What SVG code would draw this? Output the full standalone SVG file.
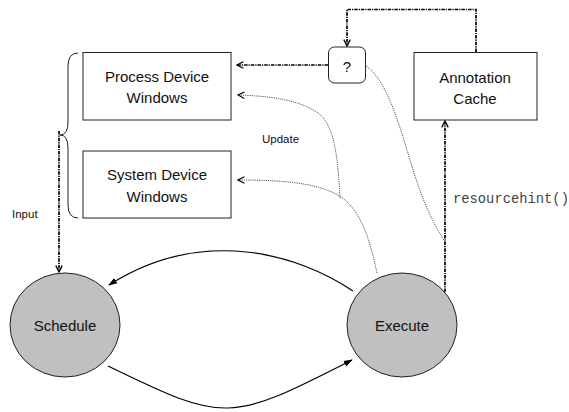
<svg xmlns="http://www.w3.org/2000/svg" width="569" height="412" viewBox="0 0 569 412">
<defs>
<style>
.box{fill:#fff;stroke:#222;stroke-width:1}
.state{fill:#c0c0c0;stroke:#222;stroke-width:1}
.lbl{font-family:"Liberation Sans",Arial,sans-serif;font-size:15px;fill:#111;text-anchor:middle}
.small{font-family:"Liberation Sans",Arial,sans-serif;font-size:11.5px;fill:#111}
.mono{font-family:"Liberation Mono","Courier New",monospace;font-size:13.8px;fill:#444}
.dash{fill:none;stroke:#000;stroke-width:1.7;stroke-dasharray:3.5 1 1.2 1}
.dot{fill:none;stroke:#555;stroke-width:1;stroke-dasharray:1.2 1}
.solid{fill:none;stroke:#000;stroke-width:1.2}
</style>
<marker id="open" viewBox="0 0 10 10" refX="9" refY="5" markerWidth="8" markerHeight="8" markerUnits="userSpaceOnUse" orient="auto">
<path d="M1,1 L9,5 L1,9" fill="none" stroke="#000" stroke-width="1.6"/>
</marker>
<marker id="openthin" viewBox="0 0 10 10" refX="9" refY="5" markerWidth="8" markerHeight="8" markerUnits="userSpaceOnUse" orient="auto">
<path d="M1,1 L9,5 L1,9" fill="none" stroke="#000" stroke-width="1.4"/>
</marker>
<marker id="fill" viewBox="0 0 10 10" refX="9" refY="5" markerWidth="9" markerHeight="9" markerUnits="userSpaceOnUse" orient="auto">
<path d="M0,1.5 L10,5 L0,8.5 Z" fill="#000"/>
</marker>
</defs>

<g id="connectors">
<path class="solid" d="M353 291 C 300 255, 203 225, 109 285" marker-end="url(#fill)"/>
<path class="solid" d="M108 366 C 225 423, 229 423, 352 360" marker-end="url(#fill)"/>
<path class="dash" d="M59 131 L59 272" marker-end="url(#open)"/>
<path class="dash" d="M445 292 L445 121" marker-end="url(#open)"/>
<path class="dash" d="M476 52 L476 9.5 L347 9.5 L347 46" marker-end="url(#open)"/>
<path class="dash" d="M328 65 L237 65" marker-end="url(#open)"/>
<path class="dot" d="M377 273 C 370 240, 362 215, 345 200 C 325 184, 290 180, 238 180" marker-end="url(#openthin)"/>
<path class="dot" d="M340 198 C 338 160, 335 125, 318 113 C 300 100, 270 96, 238 95" marker-end="url(#openthin)"/>
<path class="dot" d="M366 66 C 385 80, 395 110, 410 160 S 435 225, 445 242"/>
<path d="M78 53 Q 68 53 68 66 L 68 122 Q 68 135 60 135 Q 68 135 68 148 L 68 205 Q 68 218 78 218" fill="none" stroke="#222" stroke-width="1"/>
<text class="small" x="12" y="218">Input</text>
<text class="small" x="262" y="143">Update</text>
<text class="mono" x="453" y="203">resourcehint()</text>
</g>

<g id="process-device-windows">
<rect class="box" x="83" y="52.5" width="148" height="67.5"/>
<text class="lbl" x="157" y="81.5">Process Device</text>
<text class="lbl" x="157" y="103">Windows</text>
</g>

<g id="system-device-windows">
<rect class="box" x="83" y="151" width="148" height="67"/>
<text class="lbl" x="157" y="180">System Device</text>
<text class="lbl" x="157" y="201.5">Windows</text>
</g>

<g id="question">
<rect class="box" x="328.5" y="47" width="37" height="36" rx="6"/>
<text class="lbl" x="347" y="71.5">?</text>
</g>

<g id="annotation-cache">
<rect class="box" x="414" y="52.5" width="123" height="67.5"/>
<text class="lbl" x="475" y="83">Annotation</text>
<text class="lbl" x="475" y="104">Cache</text>
</g>

<g id="schedule">
<ellipse class="state" cx="65" cy="325" rx="55" ry="52"/>
<text class="lbl" x="65" y="331">Schedule</text>
</g>

<g id="execute">
<ellipse class="state" cx="402" cy="325" rx="55" ry="52"/>
<text class="lbl" x="402" y="331">Execute</text>
</g>
</svg>
